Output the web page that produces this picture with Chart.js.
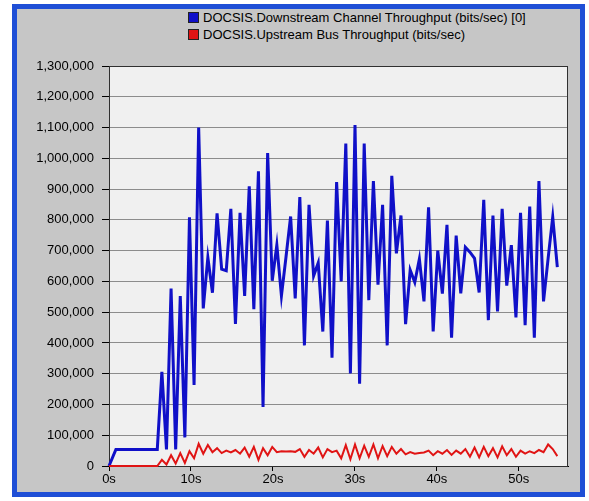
<!DOCTYPE html>
<html>
<head>
<meta charset="utf-8">
<script src="https://cdn.jsdelivr.net/npm/chart.js@4.4.1/dist/chart.umd.min.js"></script>
<style>
  body { margin: 0; width: 589px; height: 501px; overflow: hidden; background: #fff; font-family: "Liberation Sans", Arial, sans-serif; }
  .frame { position: absolute; left: 12px; top: 4px; width: 573px; height: 493px; box-sizing: border-box;
           border: 5px solid #1f4fd6; background: #c6c6c6; }
  #legend { position: absolute; left: 188px; top: 9px; font-size: 13px; color: #000; }
  #legend div { height: 17px; line-height: 17px; white-space: nowrap; }
  #legend span { display: inline-block; width: 9px; height: 9px; border: 1px solid #222; margin-right: 4px; vertical-align: -1px; }
  canvas { position: absolute; left: 0; top: 0; }
</style>
</head>
<body>
<div class="frame"></div>
<div id="legend"></div>
<canvas id="chart" width="589" height="501"></canvas>
<script>
// samples every 0.561 s (first sample at t = 0)
const sampleStep = 0.561;

const seriesNames = [
  'DOCSIS.Downstream Channel Throughput (bits/sec) [0]',
  'DOCSIS.Upstream Bus Throughput (bits/sec)'
];
const seriesColors = ['#1010c8', '#e01414'];

const downstream = [
  0, 54000, 54000, 54000, 54000, 54000, 54000, 54000, 54000, 54000, 54000,
  306000, 54000, 577000, 54000, 552000, 93000, 808000, 263000, 1100000, 512000,
  678000, 563000, 821000, 640000, 635000, 836000, 462000, 823000, 553000, 909000,
  510000, 958000, 192000, 1017000, 602000, 718000, 553000, 680000, 811000, 545000,
  874000, 392000, 849000, 618000, 660000, 437000, 798000, 352000, 923000, 600000,
  1048000, 301000, 1108000, 267000, 1048000, 539000, 926000, 589000, 849000, 392000,
  943000, 691000, 814000, 461000, 637000, 597000, 673000, 535000, 841000, 437000,
  700000, 560000, 784000, 417000, 749000, 561000, 711000, 695000, 675000, 564000,
  865000, 474000, 814000, 502000, 836000, 586000, 718000, 483000, 823000, 458000,
  843000, 417000, 926000, 535000, 675000, 809000, 646000
];

const upstream = [
  0, 0, 0, 0, 0, 0, 0, 0, 0, 0, 0,
  20000, 5000, 35000, 8000, 42000, 10000, 48000, 25000, 72000, 40000,
  68000, 45000, 58000, 42000, 50000, 44000, 52000, 40000, 60000, 30000,
  62000, 20000, 58000, 35000, 62000, 45000, 48000, 47000, 48000, 46000,
  55000, 30000, 52000, 40000, 60000, 28000, 55000, 45000, 50000, 25000,
  68000, 22000, 70000, 25000, 66000, 30000, 70000, 25000, 65000, 32000,
  62000, 40000, 55000, 38000, 45000, 40000, 42000, 44000, 50000, 35000,
  48000, 40000, 52000, 36000, 50000, 40000, 55000, 30000, 60000, 28000,
  62000, 32000, 58000, 28000, 64000, 35000, 55000, 30000, 50000, 40000,
  48000, 42000, 52000, 45000, 70000, 55000, 32000
];

const xTickStep = 10;
const yTickStep = 100000;

const times = downstream.map((v, i) => i === 0 ? 0 : (i + 0.5) * sampleStep);
const toPoints = vals => vals.map((v, i) => ({ x: times[i], y: v }));

// legend as plain html
document.getElementById('legend').innerHTML = seriesNames
  .map((n, i) => `<div><span style="background:${seriesColors[i]}"></span>${n}</div>`)
  .join('');

const plotBackground = {
  id: 'plotBackground',
  beforeDraw(chart) {
    const { ctx, chartArea: a } = chart;
    ctx.save();
    ctx.fillStyle = '#f0f0f0';
    ctx.fillRect(a.left, a.top, a.right - a.left, a.bottom - a.top);
    ctx.restore();
  },
  beforeDatasetsDraw(chart) {
    const { ctx, chartArea: a } = chart;
    ctx.save();
    ctx.strokeStyle = '#303030';
    ctx.lineWidth = 1;
    ctx.strokeRect(a.left + 0.5, a.top + 0.5, a.right - a.left - 1, a.bottom - a.top);
    ctx.restore();
  }
};

Chart.defaults.font.family = '"Liberation Sans", Arial, sans-serif';
Chart.defaults.font.size = 13;
Chart.defaults.color = '#000';

new Chart(document.getElementById('chart').getContext('2d'), {
  type: 'line',
  data: {
    datasets: [
      {
        label: seriesNames[0],
        data: toPoints(downstream),
        borderColor: seriesColors[0],
        borderWidth: 3,
        pointRadius: 0,
        tension: 0,
        clip: 4,
        order: 1
      },
      {
        label: seriesNames[1],
        data: toPoints(upstream),
        borderColor: seriesColors[1],
        borderWidth: 2,
        pointRadius: 0,
        tension: 0,
        clip: 4,
        order: 0
      }
    ]
  },
  options: {
    responsive: false,
    animation: false,
    events: [],
    layout: { padding: { left: 0, top: 66, right: 21, bottom: 0 } },
    plugins: { legend: { display: false }, tooltip: { enabled: false } },
    scales: {
      x: {
        type: 'linear',
        min: 0,
        max: 56,
        afterFit: s => { s.height = 35; },
        afterBuildTicks: s => { s.ticks = s.ticks.filter(t => t.value % xTickStep === 0); },
        ticks: { stepSize: xTickStep, padding: 1, maxRotation: 0, callback: v => v + 's' },
        grid: { drawOnChartArea: false, tickLength: 5, tickColor: '#000' },
        border: { color: '#000' }
      },
      y: {
        min: 0,
        max: 1300000,
        afterFit: s => { s.width = 109; },
        ticks: { stepSize: yTickStep, padding: 8, callback: v => v.toLocaleString('en-US') },
        grid: { color: '#8c8c8c', tickLength: 7, tickColor: '#000' },
        border: { color: '#000' }
      }
    }
  },
  plugins: [plotBackground]
});
</script>
</body>
</html>
